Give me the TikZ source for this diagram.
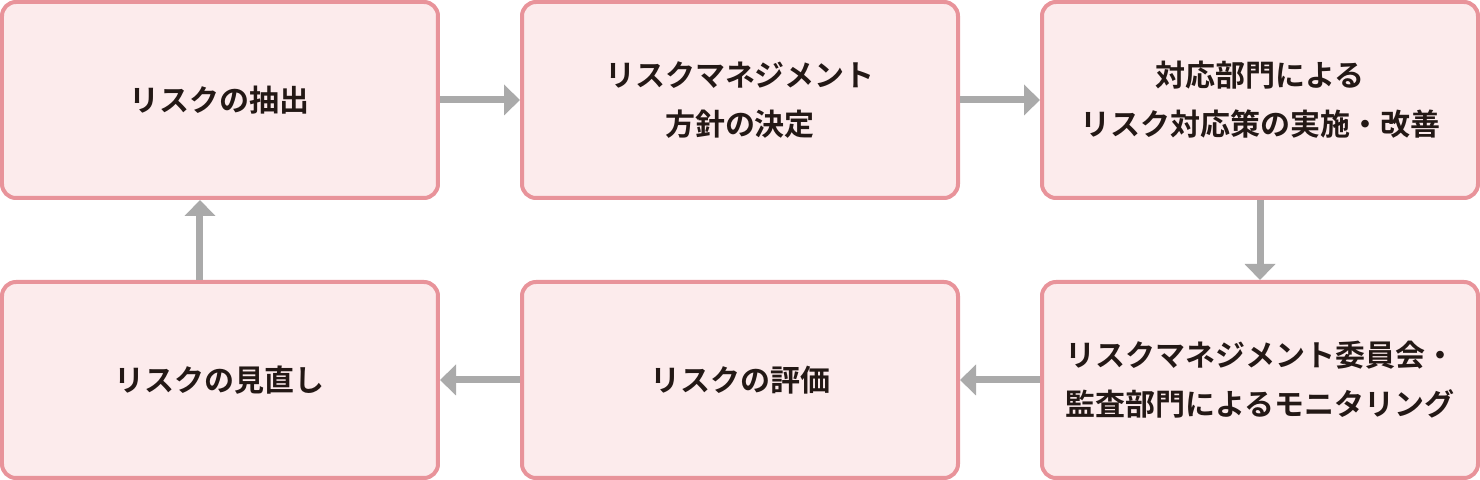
\documentclass[tikz,border=0pt]{standalone}
\usepackage{fontspec}
\setmainfont{Noto Sans CJK JP}[BoldFont={Noto Sans CJK JP Bold}]
\usepackage{tikz}
\usetikzlibrary{calc,positioning}
\usetikzlibrary{arrows.meta}

\definecolor{boxfill}{HTML}{FCEBEC}
\definecolor{boxline}{HTML}{E8939A}
\definecolor{flowgray}{HTML}{AAAAAA}
\definecolor{textdark}{HTML}{231815}

\begin{document}
\begin{tikzpicture}[node distance=40pt]
    \tikzstyle{stepbox}=[draw=boxline, line width=2pt, fill=boxfill, rounded corners=7pt,
      minimum width=218pt, minimum height=98pt, align=center, text=textdark,
      font=\fontsize{15pt}{24.5pt}\selectfont\bfseries];
    \tikzstyle{flow}=[draw=flowgray, line width=3.5pt, -{Triangle[width=15pt, length=8pt]}];

    % top row
    \node[stepbox] (extract) {リスクの抽出};
    \node[stepbox, right=of extract] (policy) {リスクマネジメント\\方針の決定};
    \node[stepbox, right=of policy] (measures) {対応部門による\\リスク対応策の実施・改善};

    % bottom row
    \node[stepbox, below=of measures] (monitor) {リスクマネジメント委員会・\\監査部門によるモニタリング};
    \node[stepbox, left=of monitor] (evaluate) {リスクの評価};
    \node[stepbox, left=of evaluate] (review) {リスクの見直し};

    \useasboundingbox (extract.north west) rectangle (monitor.south east);

    \draw[flow] (extract) -- (policy);
    \draw[flow] (policy) -- (measures);
    \draw[flow] (measures) -- (monitor);
    \draw[flow] (monitor) -- (evaluate);
    \draw[flow] (evaluate) -- (review);
    \draw[flow] ($(review.north)+(-10pt,0)$) -- ($(extract.south)+(-10pt,0)$);
  \end{tikzpicture}
\end{document}
